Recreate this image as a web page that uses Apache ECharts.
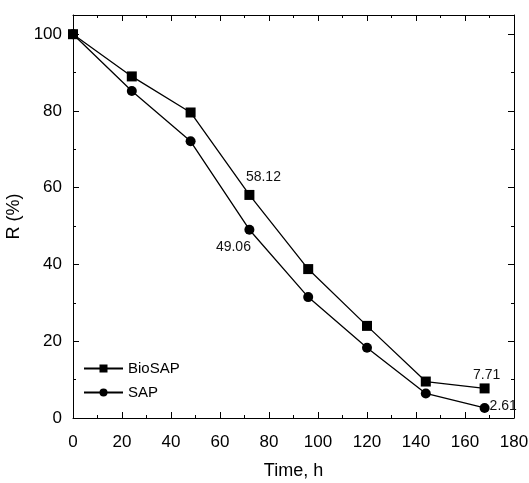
<!DOCTYPE html>
<html><head><meta charset="utf-8">
<script src="https://cdn.jsdelivr.net/npm/echarts@6/dist/echarts.min.js"></script>
<style>html,body{margin:0;padding:0;background:#fff}#c{width:529px;height:483px}</style>
</head><body><div id="c"></div>
<script>
var times = [0, 24, 48, 72, 96, 120, 144, 168];
var bioSAP = [100, 89.0, 79.6, 58.12, 38.8, 24.0, 9.5, 7.71];
var sap = [100, 85.2, 72.1, 49.06, 31.5, 18.3, 6.4, 2.61];
var yMajor = [0, 20, 40, 60, 80, 100];
var yMinor = [10, 30, 50, 70, 90];
var seriesNames = ['BioSAP', 'SAP'];

var font = 'Liberation Sans, Arial, sans-serif';
var chart = echarts.init(document.getElementById('c'));

function pts(vals, labelMap) {
  return times.map(function (t, i) {
    var d = { value: [t, vals[i]] };
    if (labelMap[i]) d.label = labelMap[i];
    return d;
  });
}
function lbl(pos, off, text) {
  return { show: true, position: pos, offset: off, formatter: text, color: '#111', fontSize: 14, fontFamily: font };
}

var axisLineStyle = { onZero: false, lineStyle: { color: '#000', width: 1 } };
var baseX = { type: 'value', min: 0, max: 180, interval: 20 };
var baseY = { type: 'value', min: 0, max: 105, interval: 20 };

chart.setOption({
  animation: false,
  backgroundColor: '#fff',
  grid: { left: 73, right: 15, top: 15, bottom: 65, outerBoundsMode: 'none', containLabel: false },
  legend: {
    orient: 'vertical', left: 83, top: 361, padding: 0, itemWidth: 39, itemHeight: 10, itemGap: 9,
    textStyle: { fontSize: 15, color: '#000', fontFamily: font },
    data: seriesNames
  },
  xAxis: [
    Object.assign({}, baseX, {
      position: 'bottom',
      name: 'Time, h', nameLocation: 'middle', nameGap: 44,
      nameTextStyle: { fontSize: 18, color: '#000', fontFamily: font },
      axisLine: axisLineStyle,
      axisTick: { inside: true, length: 6, lineStyle: { color: '#000' } },
      minorTick: { show: true, splitNumber: 2, length: 3, lineStyle: { color: '#000' } },
      axisLabel: { fontSize: 17, color: '#000', fontFamily: font, margin: 16 },
      splitLine: { show: false }
    }),
    Object.assign({}, baseX, {
      position: 'top',
      axisLine: axisLineStyle,
      axisTick: { inside: true, length: 6, lineStyle: { color: '#000' } },
      minorTick: { show: true, splitNumber: 2, length: 3, lineStyle: { color: '#000' } },
      axisLabel: { show: false },
      splitLine: { show: false }
    })
  ],
  yAxis: [
    Object.assign({}, baseY, {
      position: 'left',
      name: 'R (%)', nameLocation: 'middle', nameGap: 47,
      nameTextStyle: { fontSize: 18, color: '#000', fontFamily: font },
      axisLine: axisLineStyle,
      axisTick: { inside: true, length: 6, customValues: yMajor, lineStyle: { color: '#000' } },
      axisLabel: { fontSize: 17, color: '#000', fontFamily: font, margin: 11, customValues: yMajor },
      splitLine: { show: false }
    }),
    Object.assign({}, baseY, {
      position: 'left',
      axisLine: { show: false, onZero: false },
      axisTick: { inside: true, length: 3, customValues: yMinor, lineStyle: { color: '#000' } },
      axisLabel: { show: false },
      splitLine: { show: false }
    }),
    Object.assign({}, baseY, {
      position: 'right',
      axisLine: axisLineStyle,
      axisTick: { inside: true, length: 6, customValues: yMajor, lineStyle: { color: '#000' } },
      axisLabel: { show: false },
      splitLine: { show: false }
    }),
    Object.assign({}, baseY, {
      position: 'right',
      axisLine: { show: false, onZero: false },
      axisTick: { inside: true, length: 3, customValues: yMinor, lineStyle: { color: '#000' } },
      axisLabel: { show: false },
      splitLine: { show: false }
    })
  ],
  series: [
    {
      name: seriesNames[0], type: 'line', xAxisIndex: 0, yAxisIndex: 0,
      symbol: 'rect', symbolSize: 10,
      itemStyle: { color: '#000' }, lineStyle: { color: '#000', width: 1.3 },
      data: pts(bioSAP, {
        3: lbl('top', [14, -1], '58.12'),
        7: lbl('top', [2, 4], '7.71')
      })
    },
    {
      name: seriesNames[1], type: 'line', xAxisIndex: 0, yAxisIndex: 0,
      symbol: 'circle', symbolSize: 10,
      itemStyle: { color: '#000' }, lineStyle: { color: '#000', width: 1.3 },
      data: pts(sap, {
        3: lbl('bottom', [-16, 0], '49.06'),
        7: lbl('right', [-5, -2], '2.61')
      })
    }
  ]
});
</script></body></html>
